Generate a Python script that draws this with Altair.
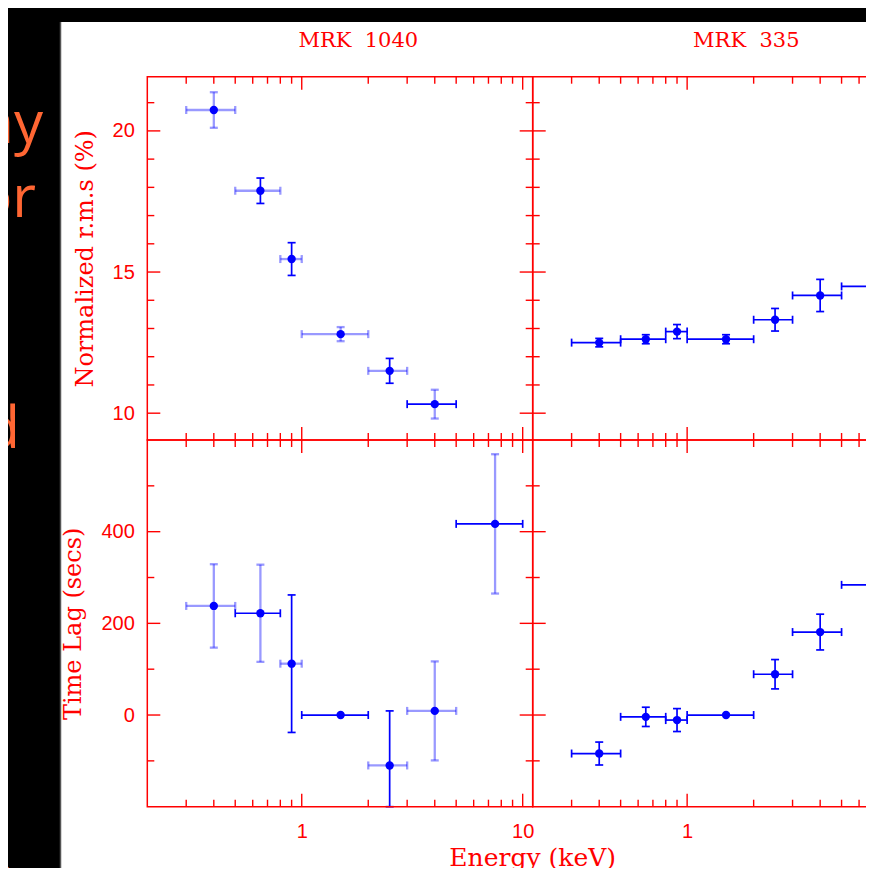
import altair as alt
import pandas as pd

# ---------------- values ----------------
E_LO = [0.3, 0.5, 0.8, 1.0, 2.0, 3.0, 5.0]
E_HI = [0.5, 0.8, 1.0, 2.0, 3.0, 5.0, 10.0]
E_MID = [0.4, 0.65, 0.9, 1.5, 2.5, 4.0, 7.5]

RMS_1040 = [20.74, 17.88, 15.46, 12.80, 11.50, 10.32]
RMS_1040_ERR = [0.63, 0.45, 0.58, 0.25, 0.44, 0.51]
LAG_1040 = [238, 222, 112, 0, -110, 9, 417]
LAG_1040_ERR = [91, 106, 150, 0, 119, 108, 152]
RMS_335 = [12.50, 12.62, 12.89, 12.62, 13.31, 14.17, 14.49]
RMS_335_ERR = [0.15, 0.16, 0.25, 0.16, 0.40, 0.57, 0.70]
LAG_335 = [-84, -4, -11, 0, 89, 181, 284]
LAG_335_ERR = [25, 21, 25, 0, 32, 39, 50]

TITLES = ["MRK\u00a0 1040", "MRK\u00a0 335"]
Y_TITLES = ["Normalized r.m.s (%)", "Time Lag (secs)"]
X_TITLE = "Energy (keV)"
SLIDE_FRAGMENTS = ["ay", "or", "d", "e"]

X_DOMAIN = [0.2, 11.1]
RMS_DOMAIN = [9.05, 21.92]
LAG_DOMAIN = [-200, 600]
X_MAJOR = [1, 10]
X_MINOR = [0.3, 0.4, 0.5, 0.6, 0.7, 0.8, 0.9, 2, 3, 4, 5, 6, 7, 8, 9]
RMS_MAJOR = [10, 15, 20]
RMS_MINOR = [11, 12, 13, 14, 16, 17, 18, 19, 21]
LAG_MAJOR = [0, 200, 400]
LAG_MINOR = [-100, 100, 300, 500]

# ---------------- styling ----------------
RED = "#ff0000"
BLUE = "#0000ff"
ORANGE = "#ff6633"
W, H = 858, 860
XR_LEFT = [139.3, 524.7]
XR_RIGHT = [524.7, 910.1]
YR_TOP = [432.0, 68.7]
YR_BOT = [798.7, 432.0]
MAJ, MIN = 13, 7
# error bars that were rendered faint in the picture (1 = faint)
FAINT = {
    "rms1040": ([1, 1, 1, 1, 1, 0], [1, 0, 0, 1, 0, 1]),
    "lag1040": ([1, 0, 1, 0, 1, 1, 0], [1, 1, 0, 0, 0, 1, 1]),
    "rms335": ([0] * 7, [0] * 7),
    "lag335": ([0] * 7, [0] * 7),
}


def panel(val, err, faint, xs, ys, xa, ya, ydom, ymaj, ymin):
    n = len(val)
    fh, fv = faint
    df = pd.DataFrame({
        "e": E_MID[:n], "lo": E_LO[:n], "hi": E_HI[:n], "v": val,
        "vlo": [v - s for v, s in zip(val, err)],
        "vhi": [v + s for v, s in zip(val, err)],
        "err": err,
        "ho": [0.4 if f else 1.0 for f in fh],
        "hw": [2.3 if f else 1.7 for f in fh],
        "vo": [0.4 if f else 1.0 for f in fv],
        "vw": [2.3 if f else 1.7 for f in fv],
    })
    dfv = df[df["err"] > 0]

    def X(f):
        return alt.X(f, type="quantitative", scale=xs, axis=xa)

    def Y(f):
        return alt.Y(f, type="quantitative", scale=ys, axis=ya)

    def XD(v):
        return alt.XDatum(v, type="quantitative", scale=xs, axis=xa)

    def YD(v):
        return alt.YDatum(v, type="quantitative", scale=ys, axis=ya)

    one = pd.DataFrame({"k": [0]})
    layers = []
    # inward tick marks on the four frame sides
    for vals, L in ((X_MAJOR, MAJ), (X_MINOR, MIN)):
        d = pd.DataFrame({"t": vals})
        layers.append(alt.Chart(d).mark_rule(color=RED, strokeWidth=1.4, y2Offset=-L)
                      .encode(x=X("t"), y=YD(ydom[0]), y2=alt.Y2Datum(ydom[0])))
        layers.append(alt.Chart(d).mark_rule(color=RED, strokeWidth=1.4, y2Offset=L)
                      .encode(x=X("t"), y=YD(ydom[1]), y2=alt.Y2Datum(ydom[1])))
    for vals, L in ((ymaj, MAJ), (ymin, MIN)):
        d = pd.DataFrame({"t": vals})
        layers.append(alt.Chart(d).mark_rule(color=RED, strokeWidth=1.4, x2Offset=L)
                      .encode(y=Y("t"), x=XD(X_DOMAIN[0]), x2=alt.X2Datum(X_DOMAIN[0])))
        layers.append(alt.Chart(d).mark_rule(color=RED, strokeWidth=1.4, x2Offset=-L)
                      .encode(y=Y("t"), x=XD(X_DOMAIN[1]), x2=alt.X2Datum(X_DOMAIN[1])))
    # horizontal error bars and caps
    layers.append(alt.Chart(df).mark_rule(color=BLUE).encode(
        x=X("lo"), x2="hi", y=Y("v"),
        opacity=alt.Opacity("ho:Q", scale=None), strokeWidth=alt.StrokeWidth("hw:Q", scale=None)))
    for end in ("lo", "hi"):
        layers.append(alt.Chart(df).mark_rule(color=BLUE, yOffset=-4, y2Offset=4).encode(
            x=X(end), y=Y("v"), y2="v",
            opacity=alt.Opacity("ho:Q", scale=None), strokeWidth=alt.StrokeWidth("hw:Q", scale=None)))
    # vertical error bars and caps
    if len(dfv):
        layers.append(alt.Chart(dfv).mark_rule(color=BLUE).encode(
            x=X("e"), y=Y("vlo"), y2="vhi",
            opacity=alt.Opacity("vo:Q", scale=None), strokeWidth=alt.StrokeWidth("vw:Q", scale=None)))
        for end in ("vlo", "vhi"):
            layers.append(alt.Chart(dfv).mark_rule(color=BLUE, xOffset=-4, x2Offset=4).encode(
                x=X("e"), x2="e", y=Y(end),
                opacity=alt.Opacity("vo:Q", scale=None), strokeWidth=alt.StrokeWidth("vw:Q", scale=None)))
    # points
    layers.append(alt.Chart(df).mark_circle(size=70, color=BLUE, opacity=1).encode(x=X("e"), y=Y("v")))
    # frame
    layers.append(alt.Chart(one).mark_rect(fill="transparent", stroke=RED, strokeWidth=1.5).encode(
        x=XD(X_DOMAIN[0]), x2=alt.X2Datum(X_DOMAIN[1]),
        y=YD(ydom[0]), y2=alt.Y2Datum(ydom[1])))
    return alt.layer(*layers)


def xscale(r):
    return alt.Scale(type="log", domain=X_DOMAIN, range=r, nice=False)


def yscale(dom, r, clamp=False):
    return alt.Scale(domain=dom, range=r, nice=False, zero=False, clamp=clamp)


ax_common = dict(ticks=False, domain=False, grid=False, zindex=2)
ya_rms = alt.Axis(orient="left", offset=-XR_LEFT[0], values=RMS_MAJOR, format="d",
                  title=Y_TITLES[0], labelPadding=13, titlePadding=15, **ax_common)
ya_lag = alt.Axis(orient="left", offset=-XR_LEFT[0], values=LAG_MAJOR, format="d",
                  title=Y_TITLES[1], labelPadding=13, titlePadding=15, **ax_common)
xa_bot = alt.Axis(orient="bottom", offset=-(H - YR_BOT[0]), values=X_MAJOR, format="~g",
                  title=None, labelPadding=15, **ax_common)

p_tl = panel(RMS_1040, RMS_1040_ERR, FAINT["rms1040"], xscale(XR_LEFT), yscale(RMS_DOMAIN, YR_TOP),
             None, ya_rms, RMS_DOMAIN, RMS_MAJOR, RMS_MINOR)
p_tr = panel(RMS_335, RMS_335_ERR, FAINT["rms335"], xscale(XR_RIGHT), yscale(RMS_DOMAIN, YR_TOP),
             None, None, RMS_DOMAIN, RMS_MAJOR, RMS_MINOR)
p_bl = panel(LAG_1040, LAG_1040_ERR, FAINT["lag1040"], xscale(XR_LEFT), yscale(LAG_DOMAIN, YR_BOT, True),
             xa_bot, ya_lag, LAG_DOMAIN, LAG_MAJOR, LAG_MINOR)
p_br = panel(LAG_335, LAG_335_ERR, FAINT["lag335"], xscale(XR_RIGHT), yscale(LAG_DOMAIN, YR_BOT, True),
             xa_bot, None, LAG_DOMAIN, LAG_MAJOR, LAG_MINOR)

one = pd.DataFrame({"k": [0]})
white = alt.Chart(one).mark_rect(color="white").encode(
    x=alt.value(52), x2=alt.value(W), y=alt.value(14), y2=alt.value(H))
edge = alt.Chart(one).mark_rule(color="#555555", strokeWidth=1.5).encode(
    x=alt.value(52.5), y=alt.value(14), y2=alt.value(H))

frag_pos = [(35, 135), (28, 209), (12, 440), (7, 887)]
frags = [
    alt.Chart(pd.DataFrame({"s": [s]})).mark_text(
        font="Open Sans", fontSize=58, color=ORANGE, align="right", baseline="alphabetic"
    ).encode(text="s:N", x=alt.value(px), y=alt.value(py))
    for s, (px, py) in zip(SLIDE_FRAGMENTS, frag_pos)
]

title_pos = [(350.3, 33), (738.3, 33)]
titles = [
    alt.Chart(pd.DataFrame({"s": [s]})).mark_text(
        font="DejaVu Serif", fontSize=21, color=RED, align="center", baseline="middle"
    ).encode(text="s:N", x=alt.value(px), y=alt.value(py))
    for s, (px, py) in zip(TITLES, title_pos)
]
xtitle = alt.Chart(pd.DataFrame({"s": [X_TITLE]})).mark_text(
    font="DejaVu Serif", fontSize=25, color=RED, align="center", baseline="alphabetic"
).encode(text="s:N", x=alt.value(XR_LEFT[1]), y=alt.value(858))

chart = alt.layer(
    white, edge, *frags, p_tl, p_tr, p_bl, p_br, *titles, xtitle
).resolve_scale(
    x="independent", y="independent"
).properties(
    width=W, height=H, padding=0, background="black",
    autosize=alt.AutoSizeParams(type="none"),
).configure_view(
    strokeWidth=0
).configure_axis(
    labelFont="Liberation Sans", labelFontSize=20, labelColor=RED,
    titleFont="DejaVu Serif", titleFontSize=24, titleColor=RED, titleFontWeight="normal",
)

chart.save("out.html", embed_options={"renderer": "svg", "actions": False})
